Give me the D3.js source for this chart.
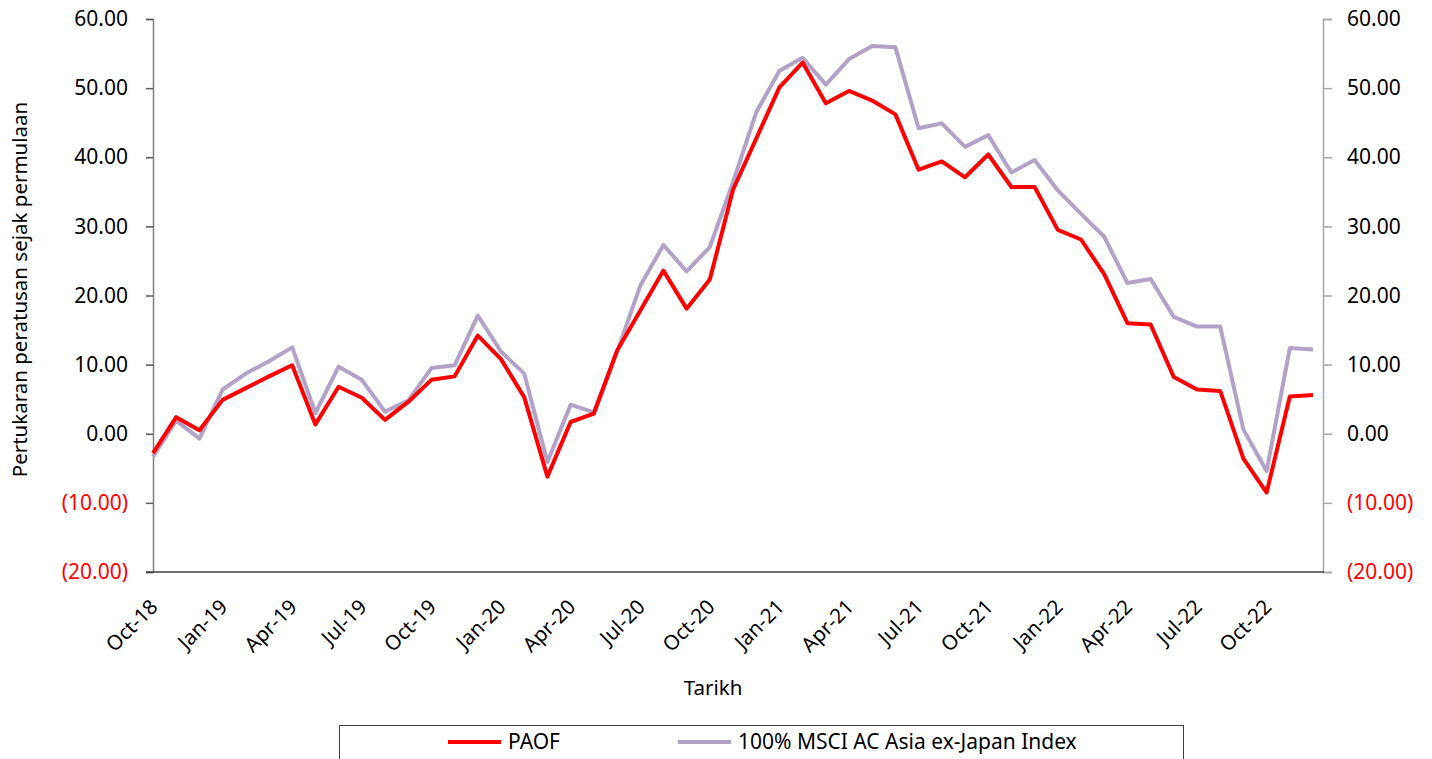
<!DOCTYPE html>
<html>
<head>
<meta charset="utf-8">
<script src="https://cdn.jsdelivr.net/npm/d3@7.9.0/dist/d3.min.js"></script>
<style>
  body { margin: 0; background: #fff; }
  svg text { font-family: "Noto Sans", "Open Sans", sans-serif; }
</style>
</head>
<body>
<div id="viz"></div>
<script>
// monthly, Oct-18 .. Dec-22
const months = ["Oct-18","Nov-18","Dec-18","Jan-19","Feb-19","Mar-19","Apr-19","May-19","Jun-19","Jul-19","Aug-19","Sep-19",
  "Oct-19","Nov-19","Dec-19","Jan-20","Feb-20","Mar-20","Apr-20","May-20","Jun-20","Jul-20","Aug-20","Sep-20",
  "Oct-20","Nov-20","Dec-20","Jan-21","Feb-21","Mar-21","Apr-21","May-21","Jun-21","Jul-21","Aug-21","Sep-21",
  "Oct-21","Nov-21","Dec-21","Jan-22","Feb-22","Mar-22","Apr-22","May-22","Jun-22","Jul-22","Aug-22","Sep-22",
  "Oct-22","Nov-22","Dec-22"];

const paof = [-2.8, 2.4, 0.5, 4.9, 6.6, 8.3, 9.9, 1.35, 6.8, 5.2, 2.0, 4.6,
  7.8, 8.3, 14.2, 10.8, 5.3, -6.2, 1.7, 2.9, 12.0, 17.8, 23.6, 18.1,
  22.3, 35.3, 42.7, 50.1, 53.7, 47.8, 49.6, 48.2, 46.2, 38.2, 39.4, 37.1,
  40.4, 35.7, 35.7, 29.5, 28.1, 23.1, 16.0, 15.8, 8.2, 6.4, 6.2, -3.6,
  -8.5, 5.4, 5.6];

const msci = [-3.3, 1.9, -0.7, 6.4, 8.7, 10.5, 12.5, 3.0, 9.7, 7.8, 3.2, 4.8,
  9.5, 9.9, 17.1, 11.9, 8.7, -4.1, 4.2, 3.1, 11.8, 21.4, 27.3, 23.5,
  27.0, 36.4, 46.5, 52.5, 54.4, 50.5, 54.2, 56.1, 55.9, 44.2, 44.9, 41.5,
  43.2, 37.8, 39.6, 35.2, 31.8, 28.5, 21.8, 22.4, 16.9, 15.5, 15.5, 0.6,
  -5.4, 12.4, 12.2];

const yTicks = [-20, -10, 0, 10, 20, 30, 40, 50, 60];
const seriesNames = ["PAOF", "100% MSCI AC Asia ex-Japan Index"];
const seriesColors = ["#ff0000", "#b3a2c7"];

const width = 1432, height = 759;
const plotL = 153, plotR = 1323, plotT = 19, plotB = 572;

const svg = d3.select("#viz").append("svg")
  .attr("width", width)
  .attr("height", height);

const x = d3.scaleLinear().domain([0, 50.43]).range([plotL, plotR]);
const y = d3.scaleLinear().domain([-20, 60]).range([plotB, plotT]);

const fmt = v => v < 0 ? `(${Math.abs(v).toFixed(2)})` : v.toFixed(2);

// left axis
const yLeft = svg.append("g")
  .attr("transform", `translate(${plotL},0)`)
  .call(d3.axisLeft(y).tickValues(yTicks).tickSize(7).tickPadding(18).tickFormat(fmt));
yLeft.select(".domain").attr("stroke", "#7f7f7f").attr("stroke-width", 1.5);
yLeft.selectAll(".tick line").attr("stroke", "#595959").attr("stroke-width", 1.5);
yLeft.selectAll(".tick text")
  .attr("font-size", 21)
  .attr("font-family", "Noto Sans")
  .attr("fill", d => d < 0 ? "#ff0000" : "#000");

// right axis
const yRight = svg.append("g")
  .attr("transform", `translate(${plotR},0)`)
  .call(d3.axisRight(y).tickValues(yTicks).tickSize(9).tickPadding(15).tickFormat(fmt));
yRight.select(".domain").attr("stroke", "#a6a6a6").attr("stroke-width", 1.5);
yRight.selectAll(".tick line").attr("stroke", "#a6a6a6").attr("stroke-width", 1.5);
yRight.selectAll(".tick text")
  .attr("font-size", 21)
  .attr("font-family", "Noto Sans")
  .attr("fill", d => d < 0 ? "#ff0000" : "#000");

// bottom axis (no tick marks, labels every 3 months)
const xTickIdx = d3.range(0, months.length, 3);
const xAxis = svg.append("g")
  .attr("transform", `translate(0,${plotB})`)
  .call(d3.axisBottom(x).tickValues(xTickIdx).tickSize(0).tickFormat(""));
xAxis.select(".domain").attr("stroke", "#404040").attr("stroke-width", 1.5)
  .attr("d", `M${plotL - 7},0H${plotR + 1}`);

svg.append("g").selectAll("text")
  .data(xTickIdx)
  .join("text")
  .attr("transform", d => `translate(${x(d) - 4},${plotB + 26}) rotate(-45)`)
  .attr("text-anchor", "end")
  .attr("dy", "0.7em")
  .attr("font-size", 20.5)
  .attr("fill", "#000")
  .text(d => months[d]);

// lines
const line = d3.line().x((d, i) => x(i)).y(d => y(d));
[msci, paof].forEach((s, k) => {
  svg.append("path")
    .datum(s)
    .attr("fill", "none")
    .attr("stroke", k === 0 ? seriesColors[1] : seriesColors[0])
    .attr("stroke-width", 4)
    .attr("stroke-linejoin", "round")
    .attr("d", line);
});

// axis titles
svg.append("text")
  .attr("transform", `translate(27,${(plotT + plotB) / 2 - 6}) rotate(-90)`)
  .attr("text-anchor", "middle")
  .attr("font-size", 20.5)
  .text("Pertukaran peratusan sejak permulaan");

svg.append("text")
  .attr("x", 713)
  .attr("y", 695)
  .attr("text-anchor", "middle")
  .attr("font-size", 20.5)
  .text("Tarikh");

// legend
const legend = svg.append("g");
legend.append("rect")
  .attr("x", 339.5).attr("y", 725.5)
  .attr("width", 844).attr("height", 60)
  .attr("fill", "none")
  .attr("stroke", "#404040")
  .attr("stroke-width", 1);

const legendX = [448, 678];
seriesNames.forEach((name, i) => {
  legend.append("line")
    .attr("x1", legendX[i]).attr("x2", legendX[i] + 53)
    .attr("y1", 742).attr("y2", 742)
    .attr("stroke", seriesColors[i])
    .attr("stroke-width", 4);
  legend.append("text")
    .attr("x", legendX[i] + 60)
    .attr("y", 742)
    .attr("dy", "0.35em")
    .attr("font-size", 21)
    .text(name);
});
</script>
</body>
</html>
